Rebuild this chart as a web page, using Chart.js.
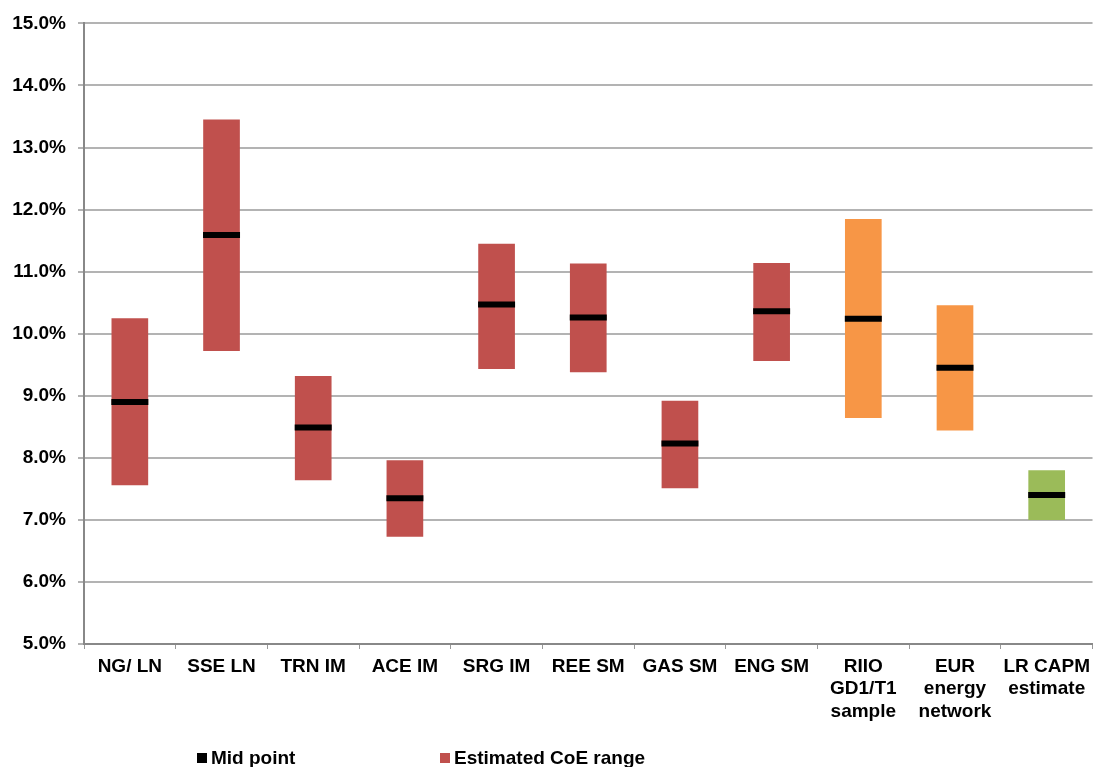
<!DOCTYPE html>
<html>
<head>
<meta charset="utf-8">
<script src="https://cdn.jsdelivr.net/npm/chart.js@4/dist/chart.umd.min.js"></script>
<style>
  html, body { margin: 0; padding: 0; background: #fff; }
  #wrap { position: relative; width: 1096px; height: 767px; }
  canvas { position: absolute; left: 0; top: 0; }
  .lg { position: absolute; font: bold 19px "Liberation Sans", Arial, sans-serif; color: #000; line-height: 19px; white-space: nowrap; }
  .sw { position: absolute; width: 10px; height: 10px; }
</style>
</head>
<body>
<div id="wrap">
  <canvas id="c" width="1096" height="767"></canvas>
  <div class="sw" style="left:197px; top:753px; background:#000;"></div>
  <div class="lg" style="left:211px; top:748px;">Mid point</div>
  <div class="sw" style="left:440px; top:753px; background:#C0504D;"></div>
  <div class="lg" style="left:454px; top:748px;">Estimated CoE range</div>
</div>
<script>
const categories = [
  "NG/ LN", "SSE LN", "TRN IM", "ACE IM", "SRG IM", "REE SM", "GAS SM", "ENG SM",
  ["RIIO", "GD1/T1", "sample"], ["EUR", "energy", "network"], ["LR CAPM", "estimate"]
];
const rangeLow  = [7.56, 9.72, 7.64, 6.73, 9.43, 9.38, 7.51, 9.56, 8.64, 8.44, 7.00];
const rangeHigh = [10.25, 13.45, 9.32, 7.96, 11.45, 11.13, 8.92, 11.14, 11.85, 10.46, 7.80];
const midPoint  = [8.90, 11.59, 8.49, 7.35, 10.47, 10.26, 8.23, 10.36, 10.24, 9.45, 7.40];
const barColors = ["#C0504D","#C0504D","#C0504D","#C0504D","#C0504D","#C0504D","#C0504D","#C0504D","#F79646","#F79646","#9BBB59"];

const FONT = { family: '"Liberation Sans", Arial, sans-serif', size: 19, weight: 'bold' };

new Chart(document.getElementById('c'), {
  type: 'bar',
  data: {
    labels: categories,
    datasets: [
      {
        type: 'line',
        label: 'Mid point',
        data: midPoint,
        showLine: false,
        pointStyle: 'line',
        pointRadius: 18.5,
        pointHoverRadius: 18.5,
        pointBorderWidth: 6,
        pointHoverBorderWidth: 6,
        borderColor: '#000',
        backgroundColor: '#000',
        order: 0
      },
      {
        type: 'bar',
        label: 'Estimated CoE range',
        data: rangeLow.map((v, i) => [v, rangeHigh[i]]),
        backgroundColor: barColors,
        borderWidth: 0,
        barPercentage: 0.4,
        categoryPercentage: 1.0,
        order: 1
      }
    ]
  },
  options: {
    responsive: false,
    animation: false,
    layout: { autoPadding: false, padding: { top: 19, right: 1, left: 0, bottom: 0 } },
    plugins: { legend: { display: false }, tooltip: { enabled: false } },
    scales: {
      x: {
        offset: true,
        grid: { display: true, offset: true, drawOnChartArea: false, drawTicks: true, tickLength: 5, color: '#999' },
        border: { display: true, color: '#888', width: 2 },
        ticks: { color: '#000', font: FONT, padding: 6, maxRotation: 0, autoSkip: false },
        afterFit: (s) => { s.height = 123; }
      },
      y: {
        min: 5, max: 15,
        ticks: { stepSize: 1, color: '#000', font: FONT, padding: 12, callback: (v) => v.toFixed(1) + '%' },
        grid: { color: '#b3b3b3', lineWidth: 2, tickLength: 6, drawTicks: true },
        border: { display: true, color: '#888', width: 2 },
        afterFit: (s) => { s.width = 84; }
      }
    }
  }
});
</script>
</body>
</html>
